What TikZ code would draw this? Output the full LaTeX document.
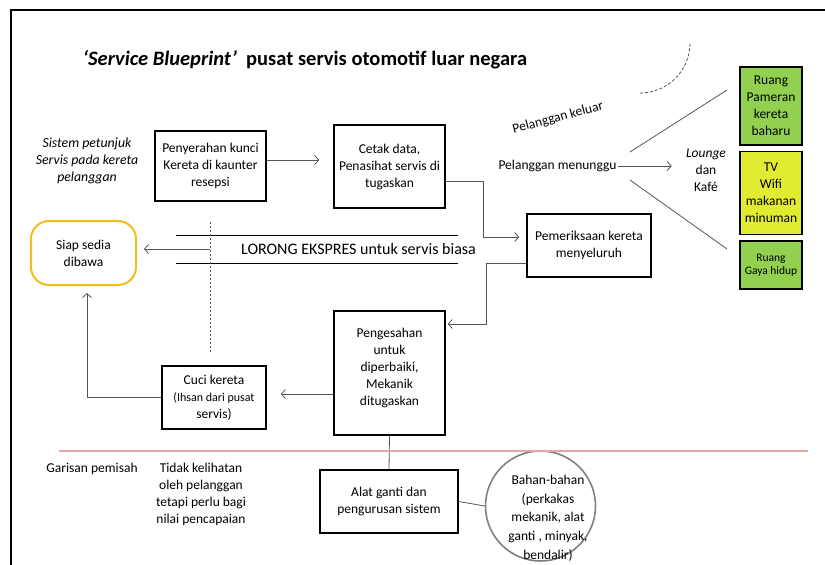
\documentclass[tikz,border=0pt]{standalone}
\usepackage{fontspec}
\setmainfont{Carlito}
\usepackage{tikz}
\usetikzlibrary{positioning,arrows.meta}
\definecolor{lightgreen}{RGB}{146,208,80}
\definecolor{limeyellow}{RGB}{225,235,50}
\definecolor{amber}{RGB}{245,188,30}
\definecolor{linegray}{RGB}{85,85,85}
\definecolor{seprose}{RGB}{232,165,165}

\begin{document}
\begin{tikzpicture}[
    x=1pt, y=-1pt,
    font=\fontsize{13.5}{17}\selectfont,
    box/.style={rectangle, draw, line width=1.6pt, align=center, inner sep=2pt},
    room/.style={rectangle, draw, line width=1.6pt, align=center, inner sep=1pt, minimum width=62pt},
    txt/.style={align=center, inner sep=1pt},
    conn/.style={draw=linegray, line width=0.8pt},
    arr/.style={conn, -{Straight Barb[length=4pt, width=9pt]}},
]
\useasboundingbox (0,0) rectangle (825,565);
\draw[line width=2pt] (11,565) -- (11,10) -- (825,10);

\node[txt, font=\fontsize{20.5}{24}\selectfont\bfseries] (title) at (305,60) {\textit{‘Service Blueprint’}\ \ pusat servis otomotif luar negara};

\node[txt, font=\fontsize{13.8}{17}\selectfont\itshape] (sistem) at (87,161) {Sistem petunjuk\\Servis pada kereta\\pelanggan};
\node[box, minimum width=111pt, minimum height=70pt] (pen) at (210.5,166) {Penyerahan kunci\\Kereta di kaunter\\resepsi};
\node[box, minimum width=111pt, minimum height=83pt] (cetak) at (389.5,166.5) {Cetak data,\\Penasihat servis di\\tugaskan};
\node[box, minimum width=124pt, minimum height=63pt] (periksa) at (589,245.5) {Pemeriksaan kereta\\menyeluruh};
\node[box, minimum width=111pt, minimum height=124pt] (sah) at (389.5,373) {Pengesahan\\untuk\\diperbaiki,\\Mekanik\\ditugaskan\\[-4pt]};
\node[box, minimum width=104pt, minimum height=63pt] (cuci) at (214,397.5) {Cuci kereta\\\fontsize{12}{16.5}\selectfont (Ihsan dari pusat\\servis)};
\node[box, minimum width=138pt, minimum height=63pt] (alat) at (389,501.5) {Alat ganti dan\\pengurusan sistem};
\node[circle, draw=gray, line width=1.6pt, minimum size=110pt, inner sep=0pt] (bahan) at (540.5,506) {};
\node[txt, font=\fontsize{13.5}{18.7}\selectfont] (bahantxt) at (548,518) {Bahan-bahan\\(perkakas\\mekanik, alat\\ganti , minyak,\\bendalir)};
\node[rectangle, draw=amber, line width=2pt, rounded corners=18pt, align=center, minimum width=105pt, minimum height=64pt] (siap) at (83.5,253) {Siap sedia\\dibawa};

\node[txt, font=\fontsize{16}{18}\selectfont] (lorong) at (358.5,249) {LORONG EKSPRES untuk servis biasa};
\node[txt, rotate=15] (keluar) at (558,118) {Pelanggan keluar};
\node[txt] (tunggu) at (557.5,166) {Pelanggan menunggu};
\node[txt] (lounge) at (706,170) {\textit{Lounge}\\dan\\Kafé};
\node[room, fill=lightgreen, minimum height=78pt] (pameran) at (771,106) {Ruang\\Pameran\\kereta\\baharu};
\node[room, fill=limeyellow, minimum height=83pt] (tv) at (771,193) {TV\\Wifi\\makanan\\minuman};
\node[room, fill=lightgreen, minimum height=48pt, font=\fontsize{11.5}{13}\selectfont] (gaya) at (771,265) {Ruang\\Gaya hidup};

\node[txt] (garisan) at (92,469) {Garisan pemisah};
\node[txt] (tidak) at (201,494.5) {Tidak kelihatan\\oleh pelanggan\\tetapi perlu bagi\\nilai pencapaian};

\coordinate (lane) at (210,249);
\coordinate (fanup) at (727,90);
\coordinate (fandown) at (727,249);

\draw[arr, shorten >=14pt] ([yshift=6pt]pen.east) -- ([yshift=6pt]pen.east -| cetak.west);
\draw[arr, shorten >=7pt] ([yshift=-14.5pt]cetak.east) -- ++(38,0) |- ([yshift=8.5pt]periksa.west);
\draw[arr, shorten >=2pt] ([yshift=-17.5pt]periksa.west) -- ++(-40,0) |- ([yshift=49pt]sah.east);
\draw[arr, shorten >=14pt] ([yshift=-21pt]sah.west) -- ([yshift=-21pt]sah.west -| cuci.east);
\draw[arr, shorten >=7pt] (cuci.west) -| ([xshift=3.5pt]siap.south);
\draw[conn] (sah.south) -- (alat.north);
\draw[conn] (alat.east) -- (bahan.west);
\draw[arr, shorten >=7pt] (lane) -- (lane -| siap.east);
\draw[arr] (tunggu.east) -- ++(54,0);
\draw[conn] (630,152) -- (fanup);
\draw[conn] (630,180) -- (fandown);

\draw[line width=0.8pt] (176,235) -- (458,235);
\draw[line width=0.8pt] (176,263) -- (458,263);
\draw[linegray, line width=0.8pt, dash pattern=on 2pt off 2pt] (210,222) -- (210,352);
\draw[linegray, line width=0.8pt, dash pattern=on 3pt off 2pt] (640,93) arc[start angle=90, end angle=0, radius=50];
\draw[seprose, line width=1.5pt] (59,451) -- (808,451);
\end{tikzpicture}
\end{document}
